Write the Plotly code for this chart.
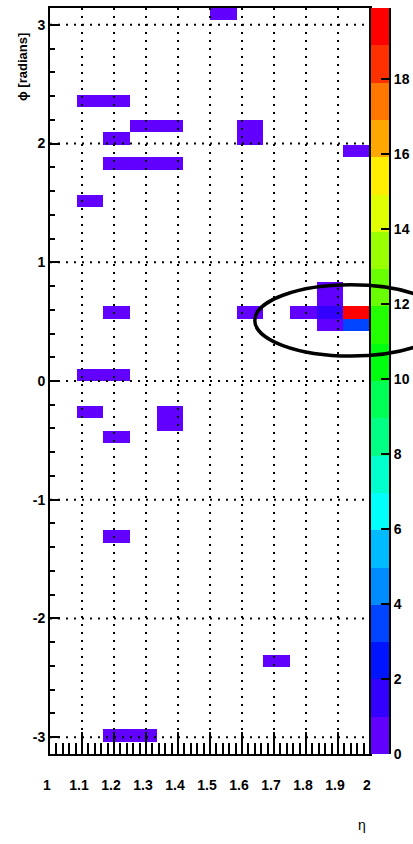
import math
import plotly.graph_objects as go

# ---- calorimeter cells (cell centres in eta / phi) and their contents ----
cell_eta = [1.542, 1.125, 1.208, 1.292, 1.375, 1.625, 1.208, 1.625, 1.958,
            1.208, 1.292, 1.375, 1.125, 1.875, 1.875, 1.208, 1.625, 1.792,
            1.875, 1.958, 1.875, 1.958, 1.125, 1.208, 1.125, 1.375, 1.375,
            1.208, 1.208, 1.708, 1.208, 1.292]
cell_phi = [3.089, 2.356, 2.356, 2.147, 2.147, 2.147, 2.042, 2.042, 1.937,
            1.833, 1.833, 1.833, 1.518, 0.785, 0.681, 0.576, 0.576, 0.576,
            0.576, 0.576, 0.471, 0.471, 0.052, 0.052, -0.262, -0.262, -0.367,
            -0.471, -1.309, -2.356, -2.985, -2.985]
cell_val = [0.62, 0.48, 0.55, 0.71, 0.66, 0.58, 0.44, 0.83, 0.69,
            0.52, 0.61, 0.47, 0.74, 0.88, 0.93, 0.57, 0.64, 0.79,
            1.62, 19.9, 0.86, 3.45, 0.51, 0.59, 0.68, 0.73, 0.62,
            0.55, 0.49, 0.66, 0.58, 0.63]

# binning of the eta-phi histogram
N_ETA, ETA_MIN, ETA_MAX = 12, 1.0, 2.0
N_PHI, PHI_MIN, PHI_MAX = 60, -math.pi, math.pi
Z_MAX = 19.9

# 20-level rainbow palette, violet (low) to red (high)
palette = ["#6200FF", "#3300FF", "#0014FF", "#0044FF", "#008BFF",
           "#00BBFF", "#00FFFB", "#00FFCC", "#00FF85", "#00FF55",
           "#00FF0E", "#22FF00", "#69FF00", "#99FF00", "#E0FF00",
           "#FFEE00", "#FFA700", "#FF7700", "#FF3000", "#FF0000"]

x_grid = [1.1, 1.2, 1.3, 1.4, 1.5, 1.6, 1.7, 1.8, 1.9]
y_tick_vals = [-3, -2, -1, 0, 1, 2, 3]
y_tick_text = ["-3", "-2", "-1", "0", "1", "2", "3"]
z_tick_vals = [0, 2, 4, 6, 8, 10, 12, 14, 16, 18]

# cone drawn around the hottest cluster
cone_eta, cone_phi, cone_r = 1.94, 0.51, 0.30

# ---- page geometry ----
W, H = 413, 844
ML, MR, MT, MB = 50, 0, 8, 90
PW = W - ML - MR
main_dom = [0, 320 / PW]
bar_dom = [320.7 / PW, 339.3 / PW]

# discrete colour scale, one band per contour level
n_lev = len(palette)
colorscale = []
for k, c in enumerate(palette):
    colorscale.append([k / n_lev, c])
    colorscale.append([(k + 1) / n_lev, c])

# fill the 2D grid from the cell list
deta = (ETA_MAX - ETA_MIN) / N_ETA
dphi = (PHI_MAX - PHI_MIN) / N_PHI
z = [[None] * N_ETA for _ in range(N_PHI)]
for e, p, v in zip(cell_eta, cell_phi, cell_val):
    i = int((e - ETA_MIN) / deta)
    k = int((p - PHI_MIN) / dphi)
    z[k][i] = v

BOLD = dict(family="Liberation Sans, Arial, sans-serif", size=14,
            color="black", weight="bold")

fig = go.Figure()
fig.add_trace(go.Heatmap(
    z=z, x0=ETA_MIN + deta / 2, dx=deta, y0=PHI_MIN + dphi / 2, dy=dphi,
    zmin=0, zmax=Z_MAX, colorscale=colorscale, showscale=False,
    hoverongaps=False, xaxis="x", yaxis="y"))

# palette strip on its own small axis pair
lev_w = Z_MAX / n_lev
lev_mid = [(k + 0.5) * lev_w for k in range(n_lev)]
fig.add_trace(go.Heatmap(
    z=[[v] for v in lev_mid], x=[0], y=lev_mid,
    zmin=0, zmax=Z_MAX, colorscale=colorscale, showscale=False,
    hoverinfo="skip", xaxis="x2", yaxis="y2"))

fig.update_layout(
    width=W, height=H,
    margin=dict(l=ML, r=MR, t=MT, b=MB, pad=0),
    paper_bgcolor="white", plot_bgcolor="white",
    showlegend=False,
    xaxis=dict(
        domain=main_dom, range=[ETA_MIN, ETA_MAX], tick0=1, dtick=0.1,
        ticks="inside", ticklen=22, tickwidth=2, tickcolor="black",
        minor=dict(ticks="inside", ticklen=11, tickwidth=2,
                   tickcolor="black", dtick=0.02, showgrid=False),
        showgrid=False, zeroline=False,
        showline=True, linecolor="black", linewidth=2, mirror=True,
        tickfont=BOLD, ticklabelstandoff=17, ticklabelshift=-3,
        anchor="y"),
    yaxis=dict(
        domain=[0, 1], range=[PHI_MIN, PHI_MAX],
        tickvals=y_tick_vals, ticktext=y_tick_text,
        ticks="inside", ticklen=10, tickwidth=2, tickcolor="black",
        minor=dict(ticks="inside", ticklen=5, tickwidth=2,
                   tickcolor="black", dtick=0.2, tick0=0, showgrid=False),
        showgrid=False, zeroline=False,
        showline=True, linecolor="black", linewidth=2, mirror=True,
        tickfont=BOLD, anchor="x"),
    xaxis2=dict(domain=bar_dom, range=[-0.5, 0.5], visible=False,
                anchor="y2"),
    yaxis2=dict(
        domain=[0, 1], range=[0, Z_MAX], anchor="x2", side="right",
        tickvals=z_tick_vals, ticks="inside", ticklen=9, tickwidth=2,
        tickcolor="black", showgrid=False, zeroline=False,
        showline=True, linecolor="black", linewidth=1.5, mirror=True,
        tickfont=BOLD),
)

# dotted grid drawn over the cells
grid_line = dict(color="black", width=2, dash="2px,6px")
shapes = []
for gx in x_grid:
    shapes.append(dict(type="line", xref="x", yref="y domain",
                       x0=gx, x1=gx, y0=0, y1=1, line=grid_line,
                       layer="above"))
for gy in y_tick_vals:
    shapes.append(dict(type="line", xref="x domain", yref="y",
                       x0=0, x1=1, y0=gy, y1=gy, line=grid_line,
                       layer="above"))


def eta_to_paper(e):
    return main_dom[0] + (e - ETA_MIN) / (ETA_MAX - ETA_MIN) * (main_dom[1] - main_dom[0])


def phi_to_paper(p):
    return (p - PHI_MIN) / (PHI_MAX - PHI_MIN)


# cone outline, not clipped to the frame
shapes.append(dict(type="circle", xref="paper", yref="paper",
                   x0=eta_to_paper(cone_eta - cone_r),
                   x1=eta_to_paper(cone_eta + cone_r),
                   y0=phi_to_paper(cone_phi - cone_r),
                   y1=phi_to_paper(cone_phi + cone_r),
                   line=dict(color="black", width=3.5), layer="above"))
fig.update_layout(shapes=shapes)

fig.add_annotation(text="ϕ [radians]", xref="paper", yref="paper",
                   x=(23 - ML) / PW, y=1 - (67 - MT) / (H - MT - MB),
                   textangle=-90, showarrow=False, xanchor="center",
                   yanchor="middle",
                   font=dict(family="Liberation Sans, Arial, sans-serif",
                             size=13, color="black", weight="bold"))
fig.add_annotation(text="η", xref="paper", yref="paper",
                   x=(362 - ML) / PW, y=-(825 - (H - MB)) / (H - MT - MB),
                   showarrow=False, xanchor="center", yanchor="middle",
                   font=dict(family="Liberation Sans, Arial, sans-serif",
                             size=14, color="black"))

fig.write_html("out.html")
